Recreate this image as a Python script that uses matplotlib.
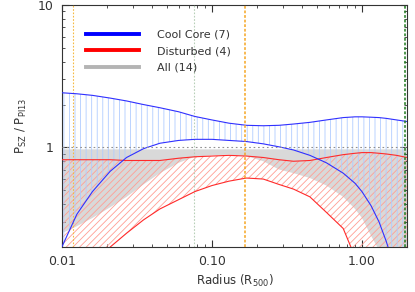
import numpy as np
import matplotlib
matplotlib.use("Agg")
import matplotlib.pyplot as plt
from matplotlib.lines import Line2D
from matplotlib.ticker import FixedLocator, LogLocator, NullFormatter

# Radius grid (R500)
radius = [0.01, 0.0126, 0.016, 0.021, 0.027, 0.035, 0.045, 0.06, 0.077, 0.1,
          0.13, 0.17, 0.22, 0.28, 0.35, 0.45, 0.58, 0.75, 0.9, 1.0,
          1.15, 1.3, 1.45, 1.7, 2.0]

cc_upper = [2.42, 2.38, 2.32, 2.22, 2.12, 2.00, 1.90, 1.78, 1.65, 1.56,
            1.48, 1.43, 1.42, 1.43, 1.46, 1.50, 1.56, 1.62, 1.64, 1.64,
            1.63, 1.62, 1.60, 1.56, 1.52]
cc_lower = [0.20, 0.34, 0.49, 0.68, 0.85, 0.98, 1.07, 1.12, 1.14, 1.14,
            1.12, 1.10, 1.06, 1.01, 0.96, 0.88, 0.78, 0.66, 0.56, 0.49,
            0.39, 0.30, 0.22, 0.13, 0.07]

dist_upper = [0.82, 0.82, 0.82, 0.82, 0.81, 0.81, 0.81, 0.84, 0.86, 0.87,
              0.88, 0.87, 0.85, 0.82, 0.80, 0.81, 0.85, 0.89, 0.91, 0.92,
              0.92, 0.91, 0.90, 0.88, 0.85]
dist_lower = [0.08, 0.11, 0.14, 0.20, 0.25, 0.31, 0.37, 0.43, 0.49, 0.54,
              0.58, 0.61, 0.60, 0.55, 0.51, 0.45, 0.35, 0.27, 0.17, 0.14,
              0.10, 0.08, 0.06, 0.05, 0.04]

all_upper = [0.97] * 25
all_lower = [0.25, 0.28, 0.32, 0.38, 0.45, 0.55, 0.66, 0.78, 0.86, 0.88,
             0.89, 0.87, 0.80, 0.70, 0.66, 0.61, 0.54, 0.45, 0.37, 0.32,
             0.24, 0.19, 0.15, 0.10, 0.07]

vlines_dotted = [(0.0118, '#f5b942'), (0.076, '#b8d0b8')]
vlines_dashed = [(0.166, '#f5a623'), (1.95, '#1e7a1e')]

legend_labels = ["Cool Core (7)", "Disturbed (4)", "All (14)"]
legend_colors = ["#0000ff", "#ff0000", "#b4b4b4"]

plt.rcParams['font.family'] = ['DejaVu Sans']
plt.rcParams['mathtext.default'] = 'regular'
plt.rcParams['hatch.linewidth'] = 0.6

fig = plt.figure(figsize=(4.15, 2.92), dpi=100)
ax = fig.add_axes([0.149, 0.154, 0.832, 0.829])
ax.set_xscale('log')
ax.set_yscale('log')

# All
ax.fill_between(radius, all_lower, all_upper, facecolor='#d9d9d9',
                edgecolor='none', linewidth=0, zorder=1)
# Disturbed
ax.fill_between(radius, dist_lower, dist_upper, facecolor='none',
                edgecolor='#ff9e94', hatch='/////', linewidth=0, zorder=2)
# Cool core
ax.fill_between(radius, cc_lower, cc_upper, facecolor='none',
                edgecolor='#b0ccff', hatch='|||', linewidth=0, zorder=3)

ax.plot(radius, dist_upper, color='#ff2a2a', lw=0.8, zorder=5)
ax.plot(radius, dist_lower, color='#ff2a2a', lw=0.8, zorder=5)
ax.plot(radius, cc_upper, color='#3030ff', lw=0.8, zorder=6)
ax.plot(radius, cc_lower, color='#3030ff', lw=0.8, zorder=6)

ax.axhline(1.0, color='#909090', lw=0.8, ls=(0, (1.5, 2.5)), zorder=7)
for xv, c in vlines_dotted:
    ax.axvline(xv, color=c, lw=0.8, ls=(0, (1.5, 1.5)), zorder=4)
for xv, c in vlines_dashed:
    ax.axvline(xv, color=c, lw=1.1, ls=(0, (1.8, 1.2)), zorder=8)

ax.set_xlim(0.01, 2.0)
ax.set_ylim(0.2, 10)

ax.xaxis.set_major_locator(FixedLocator([0.01, 0.1, 1.0]))
ax.set_xticklabels(["0.01", "0.10", "1.00"])
ax.xaxis.set_minor_locator(LogLocator(base=10, subs=np.arange(2, 10)))
ax.xaxis.set_minor_formatter(NullFormatter())
ax.yaxis.set_major_locator(FixedLocator([1, 10]))
ax.set_yticklabels(["1", "10"])
ax.yaxis.set_minor_locator(LogLocator(base=10, subs=np.arange(2, 10)))
ax.yaxis.set_minor_formatter(NullFormatter())

ax.tick_params(which='both', direction='in', top=True, right=True,
               labelsize=9, colors='#333333')
ax.tick_params(which='major', length=5, width=0.8, pad=6)
ax.tick_params(which='minor', length=2.5, width=0.6)
for s in ax.spines.values():
    s.set_color('#333333')
    s.set_linewidth(0.8)

ax.set_xlabel(r"Radius (R$_{500}$)", fontsize=8.5, color='#333333', labelpad=3)
ax.set_ylabel(r"P$_{SZ}$ / P$_{PI13}$", fontsize=8.5, color='#333333', labelpad=6)

handles = [Line2D([], [], color=c, lw=2.8) for c in legend_colors]
ax.legend(handles, legend_labels, loc='upper left', frameon=False,
          fontsize=8, handlelength=4.8, handletextpad=1.6,
          bbox_to_anchor=(0.04, 0.94), labelspacing=0.6,
          labelcolor='#333333')

fig.savefig("out.png", dpi=100)
